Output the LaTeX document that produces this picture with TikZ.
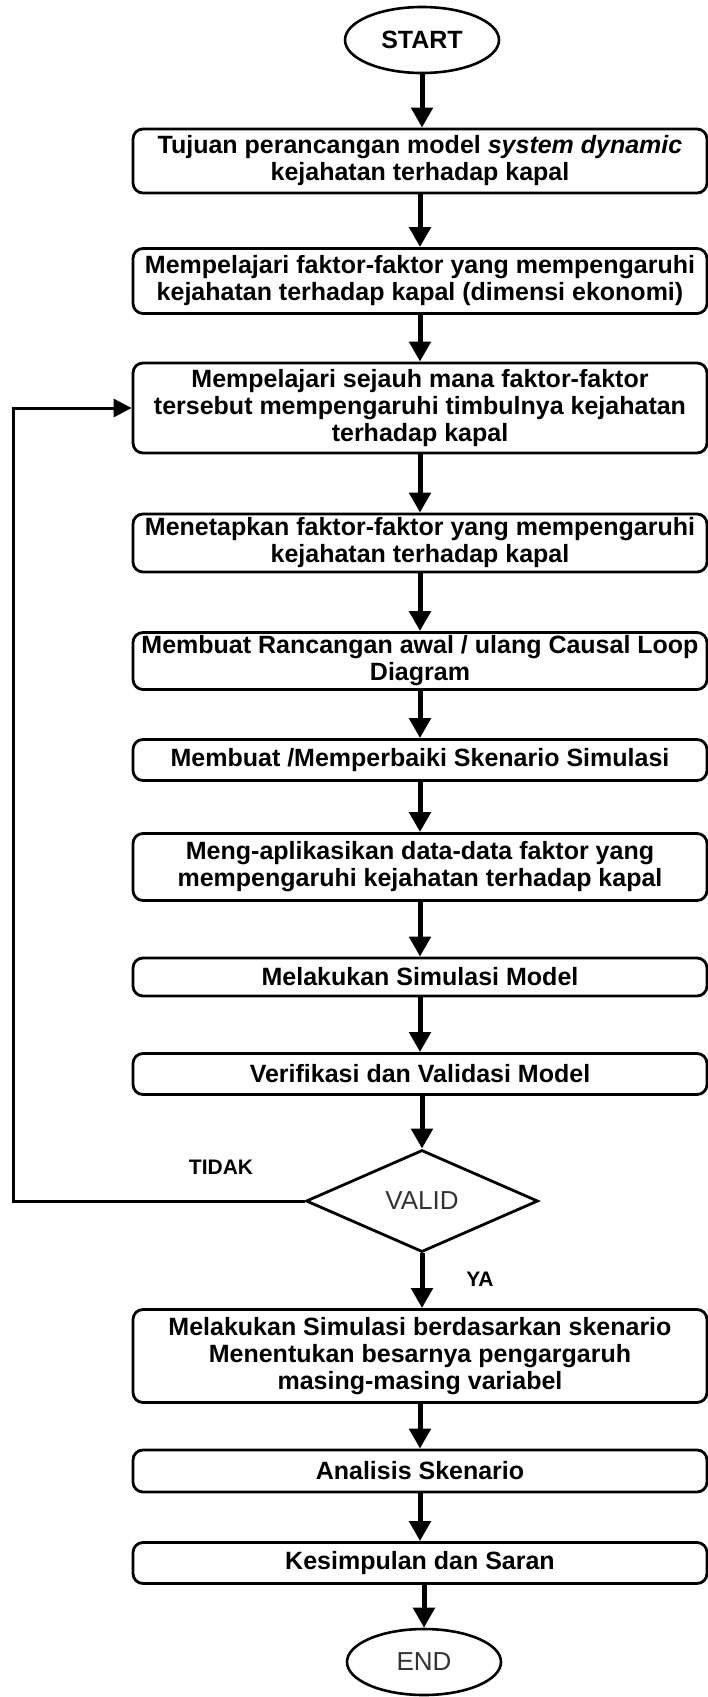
\documentclass[tikz,border=0pt]{standalone}
\usepackage{fontspec}
\setmainfont{Liberation Sans}
\usetikzlibrary{arrows.meta,positioning,shapes.geometric}

\begin{document}
\begin{tikzpicture}[
    x=1pt, y=-1pt,
    font=\fontsize{25}{27}\selectfont\bfseries,
    box/.style={draw, line width=2.8pt, rounded corners=10pt, minimum width=574pt, align=center, inner sep=1pt},
    term/.style={draw, ellipse, line width=2.6pt, minimum width=154pt, minimum height=66pt, inner sep=0pt},
    dec/.style={draw, diamond, line width=2.8pt, minimum width=232pt, minimum height=102pt, inner sep=0pt},
    lbl/.style={font=\fontsize{21}{24}\selectfont\bfseries},
    arr/.style={-{Triangle[length=20pt, width=21pt]}, line width=5pt},
    back/.style={-{Triangle[length=18pt, width=18pt]}, line width=3pt},
]
    \useasboundingbox (0,0) rectangle (707,1697);

    \node[term] (start) at (422, 40) {START};
    \node[box, minimum height=64pt] (b1) at (420, 161) {Tujuan perancangan model \textit{system dynamic}\\kejahatan terhadap kapal};
    \node[box, minimum height=65pt] (b2) at (420, 281) {Mempelajari faktor-faktor yang mempengaruhi\\kejahatan terhadap kapal (dimensi ekonomi)};
    \node[box, minimum height=90pt] (b3) at (420, 408) {Mempelajari sejauh mana faktor-faktor\\tersebut mempengaruhi timbulnya kejahatan\\terhadap kapal};
    \node[box, minimum height=58pt] (b4) at (420, 543) {Menetapkan faktor-faktor yang mempengaruhi\\kejahatan terhadap kapal};
    \node[box, minimum height=57pt] (b5) at (420, 661) {Membuat Rancangan awal / ulang Causal Loop\\Diagram};
    \node[box, minimum height=41pt] (b6) at (420, 760) {Membuat /Memperbaiki Skenario Simulasi};
    \node[box, minimum height=67pt] (b7) at (420, 867) {Meng-aplikasikan data-data faktor yang\\mempengaruhi kejahatan terhadap kapal};
    \node[box, minimum height=38pt] (b8) at (420, 977) {Melakukan Simulasi Model};
    \node[box, minimum height=41pt] (b9) at (420, 1074) {Verifikasi dan Validasi Model};
    \node[dec, font=\fontsize{26}{28}\selectfont, text=black!80] (valid) at (422, 1201) {VALID};
    \node[box, minimum height=93pt] (b10) at (420, 1356) {Melakukan Simulasi berdasarkan skenario\\Menentukan besarnya pengargaruh\\masing-masing variabel};
    \node[box, minimum height=42pt] (b11) at (420, 1471) {Analisis Skenario};
    \node[box, minimum height=41pt] (b12) at (420, 1563) {Kesimpulan dan Saran};
    \node[term, font=\fontsize{26}{28}\selectfont, text=black!80] (end) at (424, 1662) {END};

    \node[lbl] (tidak) at (221, 1167) {TIDAK};
    \node[lbl] (ya) at (480, 1279) {YA};

    \coordinate (lp) at (13, 1201);
    \coordinate (lq) at (13, 408);

    \draw[arr] (start) -- (start |- b1.north);
    \draw[arr] (b1) -- (b2);
    \draw[arr] (b2) -- (b3);
    \draw[arr] (b3) -- (b4);
    \draw[arr] (b4) -- (b5);
    \draw[arr] (b5) -- (b6);
    \draw[arr] (b6) -- (b7);
    \draw[arr] (b7) -- (b8);
    \draw[arr] (b8) -- (b9);
    \draw[arr] (b9.south -| valid) -- (valid);
    \draw[arr] (valid) -- (valid |- b10.north);
    \draw[arr] (b10) -- (b11);
    \draw[arr] (b11) -- (b12);
    \draw[arr] (b12.south -| end) -- (end);
    \draw[back] (valid.west) -- (lp) -- (lq) -- (b3.west);
\end{tikzpicture}
\end{document}
